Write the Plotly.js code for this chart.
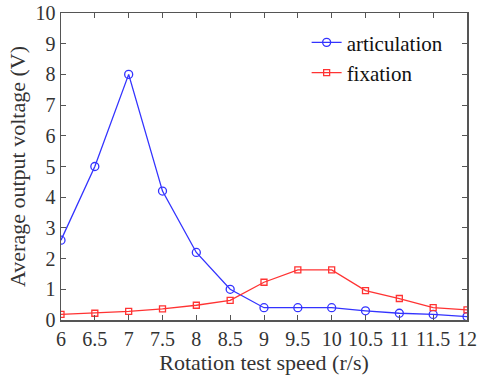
<!DOCTYPE html>
<html><head><meta charset="utf-8">
<script src="https://cdn.plot.ly/plotly-3.0.1.min.js"></script>
<style>body{margin:0;background:#fff}#c{width:478px;height:379px}</style>
</head><body><div id="c"></div>
<script>
var speed = [6, 6.5, 7, 7.5, 8, 8.5, 9, 9.5, 10, 10.5, 11, 11.5, 12];
var articulation = [2.6, 5.0, 8.0, 4.2, 2.2, 1.0, 0.4, 0.4, 0.4, 0.3, 0.22, 0.18, 0.11];
var fixation = [0.18, 0.22, 0.28, 0.36, 0.48, 0.64, 1.23, 1.63, 1.63, 0.96, 0.70, 0.40, 0.33];
var xTicks = [6, 6.5, 7, 7.5, 8, 8.5, 9, 9.5, 10, 10.5, 11, 11.5, 12];
var yTicks = [0,1,2,3,4,5,6,7,8,9,10];

var font = "Liberation Serif";
var traces = [
  {x: speed, y: articulation, name: 'articulation', mode: 'lines+markers',
   line: {color: '#3333ff', width: 1.3},
   marker: {symbol: 'circle-open', size: 8, color: '#3333ff', line: {width: 1.3}}},
  {x: speed, y: fixation, name: 'fixation', mode: 'lines+markers',
   line: {color: '#ff3333', width: 1.3},
   marker: {symbol: 'square-open', size: 6, color: '#ff3333', line: {width: 1.3}}}
];
var axisCommon = {showgrid: false, zeroline: false, showline: true, mirror: 'ticks',
  linecolor: '#555', linewidth: 1.5, ticks: 'inside', ticklen: 5, tickcolor: '#555',
  tickfont: {family: font, size: 20, color: '#333'}};
var layout = {
  width: 478, height: 379,
  margin: {l: 61, r: 11, t: 13, b: 59},
  paper_bgcolor: '#fff', plot_bgcolor: '#fff',
  font: {family: font},
  showlegend: true,
  legend: {x: 0.605, y: 0.97, xanchor: 'left', yanchor: 'top', bgcolor: 'rgba(0,0,0,0)',
    font: {family: font, size: 21, color: '#111'}, itemwidth: 30, tracegroupgap: 0},
  xaxis: Object.assign({}, axisCommon, {range: [6, 12], tickvals: xTicks, ticktext: xTicks.map(String),
    title: {text: 'Rotation test speed (r/s)', font: {family: font, size: 22, color: '#333'}, standoff: 6}}),
  yaxis: Object.assign({}, axisCommon, {range: [0, 10], tickvals: yTicks,
    title: {text: 'Average output voltage (V)', font: {family: font, size: 22, color: '#333'}, standoff: 4}})
};
Plotly.newPlot('c', traces, layout, {staticPlot: true});
</script></body></html>
